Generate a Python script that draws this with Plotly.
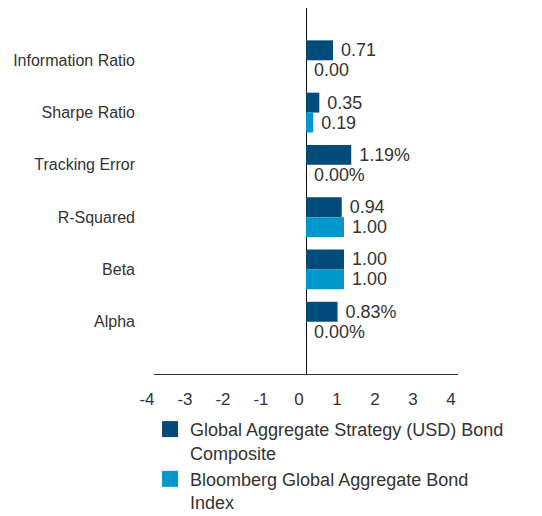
import plotly.graph_objects as go

categories = ["Information Ratio", "Sharpe Ratio", "Tracking Error", "R-Squared", "Beta", "Alpha"]
composite = [0.71, 0.35, 1.19, 0.94, 1.00, 0.83]
benchmark = [0.00, 0.19, 0.00, 1.00, 1.00, 0.00]
suffixes = ["", "", "%", "", "", "%"]
series_names = ["Global Aggregate Strategy (USD) Bond<br>Composite",
                "Bloomberg Global Aggregate Bond<br>Index"]
x_ticks = [-4, -3, -2, -1, 0, 1, 2, 3, 4]

DARK = "#004B7A"
LIGHT = "#0097CA"
TEXT = "#333333"
FONT = "Liberation Sans, Arial, sans-serif"

fig = go.Figure()
for vals, color, name in [(composite, DARK, series_names[0]), (benchmark, LIGHT, series_names[1])]:
    fig.add_trace(go.Bar(
        y=categories, x=vals, orientation="h", marker=dict(color=color, line=dict(width=0)),
        text=["\u00a0" + f"{v:.2f}{s}" for v, s in zip(vals, suffixes)],
        textposition="outside", cliponaxis=False,
        textfont=dict(family=FONT, size=18, color=TEXT),
        showlegend=False, name=name,
    ))
    # legend proxy with a larger square swatch
    fig.add_trace(go.Scatter(
        x=[None], y=[None], mode="markers", name=name,
        marker=dict(symbol="square", size=20, color=color),
    ))

# the page body adds an 8px offset, so the figure is sized to fill the rest of the window
fig.update_layout(
    template="none",
    width=534, height=508,
    margin=dict(l=146, r=84, t=0, b=142, autoexpand=False),
    paper_bgcolor="white", plot_bgcolor="white",
    barmode="group", bargap=0.238, bargroupgap=0,
    font=dict(family=FONT, size=17, color=TEXT),
    xaxis=dict(range=[-4, 4], tickvals=x_ticks, ticktext=[str(v) for v in x_ticks],
               showgrid=False,
               zeroline=True, zerolinecolor="#111111", zerolinewidth=1,
               showline=True, linecolor="#333333", linewidth=1,
               ticks="", ticklabelstandoff=10, ticklabelshift=-7,
               tickfont=dict(family=FONT, size=17, color=TEXT)),
    yaxis=dict(categoryorder="array", categoryarray=categories,
               autorange=False, range=[6.0, -1.0], showgrid=False,
               zeroline=False, showline=False, ticks="", ticklabelstandoff=18,
               tickfont=dict(family=FONT, size=16, color=TEXT)),
    legend=dict(x=-0.013, y=-0.1008, xanchor="left", yanchor="top",
                orientation="v", valign="top", bgcolor="rgba(0,0,0,0)",
                font=dict(family=FONT, size=18, color=TEXT),
                itemsizing="trace"),
)

fig.write_html("out.html")
